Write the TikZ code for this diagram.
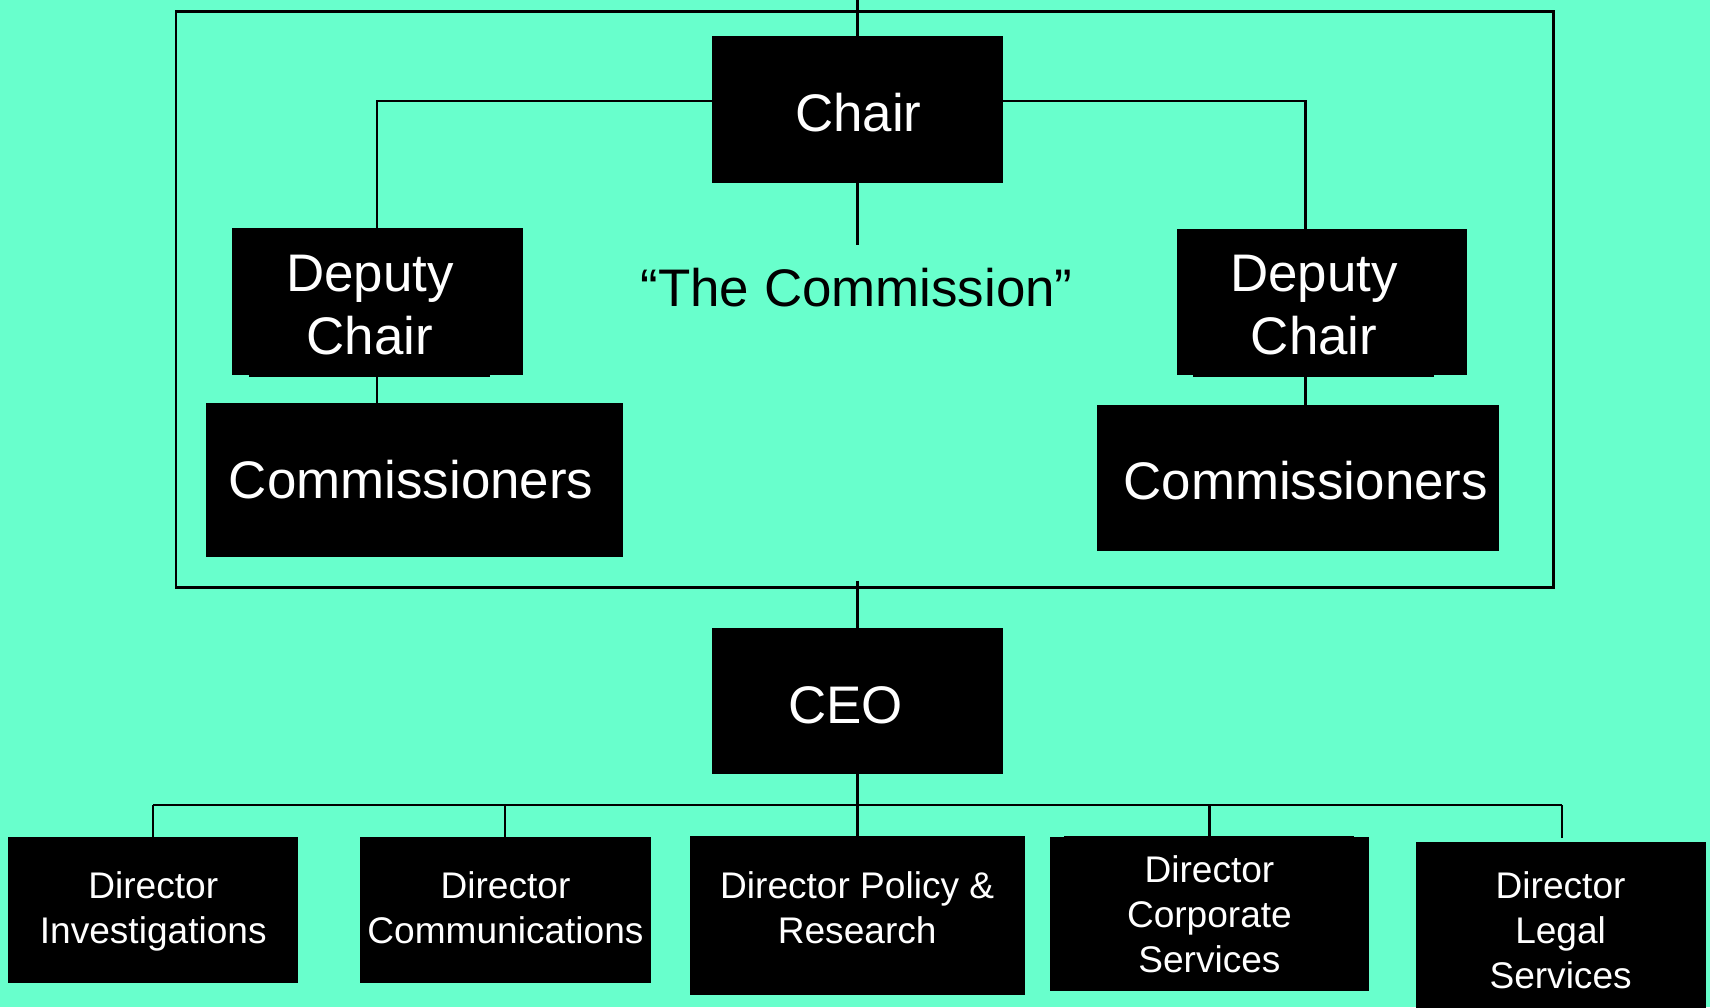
\documentclass[tikz,border=0pt]{standalone}
\usepackage{fontspec}
\setmainfont{Liberation Sans}
\definecolor{mint}{RGB}{104,255,204}
\begin{document}
\begin{tikzpicture}[x=1pt,y=-1pt,
  box/.style={fill=black, draw=none, inner sep=0pt, outer sep=0pt, anchor=north west},
  bigtxt/.style={text=white, font=\fontsize{48.5}{57.5}\selectfont, align=center, inner sep=0pt, anchor=base},
  smalltxt/.style={text=white, font=\fontsize{34}{41.2}\selectfont, align=center, inner sep=0pt, anchor=base},
  link/.style={draw=black, line width=2pt},
  frameline/.style={draw=black, line width=2.2pt}]
\fill[mint] (0,0) rectangle (1568,923.4);
\useasboundingbox (0,0) rectangle (1568,923.4);

% frame
\draw[frameline] (161.5,10.5) rectangle (1424.6,538.6);

% boxes
\node[box, minimum width=266.5pt, minimum height=134.2pt] (chair) at (653,33.4) {};
\node[box, minimum width=266.5pt, minimum height=134pt] (depL) at (212.8,209.5) {};
\fill[black] (228.4,340) rectangle (449.4,345.6);
\node[box, minimum width=266.5pt, minimum height=134pt] (depR) at (1079,209.7) {};
\fill[black] (1094,340) rectangle (1315,346);
\node[box, minimum width=382.1pt, minimum height=141.2pt] (comL) at (188.9,369.6) {};
\node[box, minimum width=369.1pt, minimum height=134.3pt] (comR) at (1005.6,371) {};
\node[box, minimum width=266.5pt, minimum height=134pt] (ceo) at (653,576) {};
\node[box, minimum width=266pt, minimum height=133.9pt] (d1) at (7.5,767.3) {};
\node[box, minimum width=266.5pt, minimum height=133.9pt] (d2) at (330,767.3) {};
\node[box, minimum width=307.5pt, minimum height=145.7pt] (d3) at (632.5,767) {};
\node[box, minimum width=293pt, minimum height=140.6pt] (d4) at (962.6,767.9) {};
\fill[black] (976,767) rectangle (1242,770);
\node[box, minimum width=266pt, minimum height=160pt] (d5) at (1298.5,772.5) {};

% connectors
\coordinate (topin) at (786.25,0);
\coordinate (commtop) at (786.25,224.8);
\coordinate (ceoin) at (786.25,532.5);
\coordinate (busL) at (140.5,738.5);
\coordinate (busR) at (1432,738.5);
\draw[link] (topin) -- (chair.north);
\draw[link] (chair.west |- 0,92.7) -| (depL.north);
\draw[link] (chair.east |- 0,92.7) -| (1197,0 |- depR.north);
\draw[link] (chair.south) -- (commtop);
\draw[link] (depL.south |- 0,345.6) -- (depL.south |- comL.north);
\draw[link] (1197,346) -- (1197,0 |- comR.north);
\draw[link] (ceoin) -- (ceo.north);
\draw[link] (ceo.south) -- (d3.north);
\draw[link] (busL) -- (busR);
\draw[link] (busL) -- (d1.north);
\draw[link] (d2.north |- busL) -- (d2.north);
\draw[link] (d4.north |- busL) -- (d4.north);
\draw[link, shorten >=3.7pt] (busR) -- (busR |- d5.north);

% texts (anchor base = baseline of last line)
\node[bigtxt] (chairT) at (787,120.5) {Chair};
\node[bigtxt, text=black] (commT) at (785.5,281) {“The Commission”};
\node[bigtxt] (depLT) at (339.2,325) {Deputy\\Chair};
\node[bigtxt] (depRT) at (1205,325) {Deputy\\Chair};
\node[bigtxt] (comLT) at (377,457) {Commissioners};
\node[bigtxt] (comRT) at (1197.3,457.8) {Commissioners};
\node[bigtxt] (ceoT) at (775.3,663) {CEO};
\node[smalltxt] (d1T) at (140.5,865) {Director\\Investigations};
\node[smalltxt] (d2T) at (463.5,865) {Director\\Communications};
\node[smalltxt] (d3T) at (786,865) {Director Policy \&\\Research};
\node[smalltxt] (d4T) at (1109,892) {Director\\Corporate\\Services};
\node[smalltxt] (d5T) at (1431,906.3) {Director\\Legal\\Services};
\end{tikzpicture}
\end{document}
